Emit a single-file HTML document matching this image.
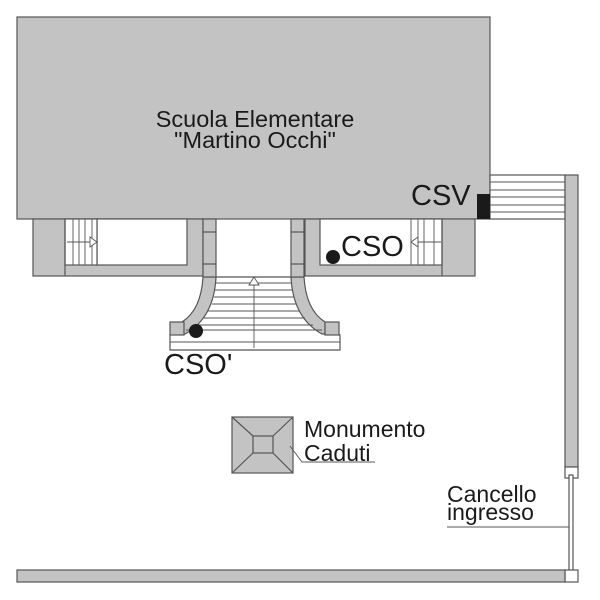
<!DOCTYPE html>
<html><head><style>body{margin:0;background:#fff}svg{display:block}text{font-family:"Liberation Sans",sans-serif;fill:#1a1a1a}</style></head><body>
<svg width="600" height="600" viewBox="0 0 600 600" xmlns="http://www.w3.org/2000/svg">
<g stroke="#555" stroke-width="1.2">
<rect x="17" y="17" width="473" height="202" fill="#c3c3c3"/>
<rect x="33" y="219" width="170" height="57" fill="#c3c3c3"/>
<rect x="97" y="219" width="90" height="46" fill="#fff"/>
<rect x="65" y="219" width="32" height="46" fill="#fff"/>
<line x1="65" y1="219" x2="65" y2="276"/>
<rect x="305" y="219" width="170" height="57" fill="#c3c3c3"/>
<rect x="320" y="219" width="122" height="46" fill="#fff"/>
<line x1="442" y1="219" x2="442" y2="276"/>
<path d="M216,277 L291,277 Q295,320 340,335 L340,350 L170,350 L170,335 Q212,320 216,277Z" fill="#fff"/>
<path d="M203,277 L216,277 Q214,318 185,334 L182,334 L182,322 Q201,310 203,277Z" fill="#c3c3c3"/>
<path d="M291,277 L304,277 Q306,310 325,322 L325,334 L322,334 Q293,318 291,277Z" fill="#c3c3c3"/>
<rect x="170" y="322" width="14" height="13" fill="#c3c3c3"/>
<rect x="325" y="322" width="14" height="13" fill="#c3c3c3"/>
<rect x="203" y="219" width="13" height="58" fill="#c3c3c3"/>
<rect x="291" y="219" width="13" height="58" fill="#c3c3c3"/>
<line x1="203" y1="232" x2="216" y2="232"/><line x1="203" y1="264" x2="216" y2="264"/>
<line x1="291" y1="232" x2="304" y2="232"/><line x1="291" y1="264" x2="304" y2="264"/>
<rect x="490" y="175" width="75" height="44" fill="#fff"/>
<rect x="565" y="175" width="13" height="292" fill="#c3c3c3"/>
<rect x="565" y="467" width="13" height="11" fill="#fff"/>
<rect x="569" y="475" width="4" height="98" fill="#fff"/>
<rect x="565" y="570" width="13" height="12" fill="#fff"/>
<rect x="17" y="570" width="548" height="12" fill="#c3c3c3"/>
<rect x="232" y="417" width="61" height="56" fill="#c3c3c3"/>
<rect x="253" y="436" width="20" height="17" fill="#c3c3c3"/>
<line x1="232" y1="417" x2="253" y2="436"/><line x1="293" y1="417" x2="273" y2="436"/>
<line x1="232" y1="473" x2="253" y2="453"/><line x1="293" y1="473" x2="273" y2="453"/>
</g>
<g stroke="#555" stroke-width="0.9" fill="none">
<line x1="73" y1="219" x2="73" y2="265"/><line x1="79" y1="219" x2="79" y2="265"/><line x1="85" y1="219" x2="85" y2="265"/><line x1="92" y1="219" x2="92" y2="265"/>
<line x1="67" y1="242" x2="94" y2="242"/><path d="M90,237 L97,242 L90,247Z" fill="#fff"/>
<line x1="411" y1="219" x2="411" y2="265"/><line x1="418" y1="219" x2="418" y2="265"/><line x1="424" y1="219" x2="424" y2="265"/><line x1="434" y1="219" x2="434" y2="265"/>
<line x1="414" y1="242" x2="441" y2="242"/><path d="M418,237 L411,242 L418,247Z" fill="#fff"/>
<line x1="216" y1="283" x2="291" y2="283"/>
<line x1="215" y1="290" x2="292" y2="290"/>
<line x1="214" y1="297" x2="294" y2="297"/>
<line x1="212" y1="304" x2="296" y2="304"/>
<line x1="208" y1="311" x2="300" y2="311"/>
<line x1="203" y1="318" x2="305" y2="318"/>
<line x1="195" y1="325" x2="313" y2="325"/>
<line x1="186" y1="330" x2="322" y2="330"/>
<line x1="170" y1="342" x2="340" y2="342"/>
<line x1="254" y1="280" x2="254" y2="348"/><path d="M249,285 L254,277 L259,285Z" fill="#fff"/>
<line x1="490" y1="182" x2="565" y2="182"/><line x1="490" y1="190" x2="565" y2="190"/><line x1="490" y1="197" x2="565" y2="197"/><line x1="490" y1="205" x2="565" y2="205"/><line x1="490" y1="212" x2="565" y2="212"/>
<polyline points="290,446 302,462 375,462"/>
<line x1="447" y1="527" x2="569" y2="527"/>
</g>
<rect x="477" y="194" width="13" height="25" fill="#1a1a1a"/>
<circle cx="333" cy="257" r="7" fill="#1a1a1a"/>
<circle cx="196" cy="331" r="7" fill="#1a1a1a"/>
<text x="255" y="127" font-size="23.5" text-anchor="middle">Scuola Elementare</text>
<text x="255" y="148" font-size="23.5" text-anchor="middle">"Martino Occhi"</text>
<text x="411" y="205" font-size="29">CSV</text>
<text x="341" y="256" font-size="29">CSO</text>
<text x="164" y="374" font-size="29">CSO'</text>
<text x="304" y="437" font-size="23">Monumento</text>
<text x="304" y="461" font-size="23">Caduti</text>
<text x="447" y="502" font-size="23">Cancello</text>
<text x="447" y="520" font-size="23">ingresso</text>
</svg>
</body></html>
